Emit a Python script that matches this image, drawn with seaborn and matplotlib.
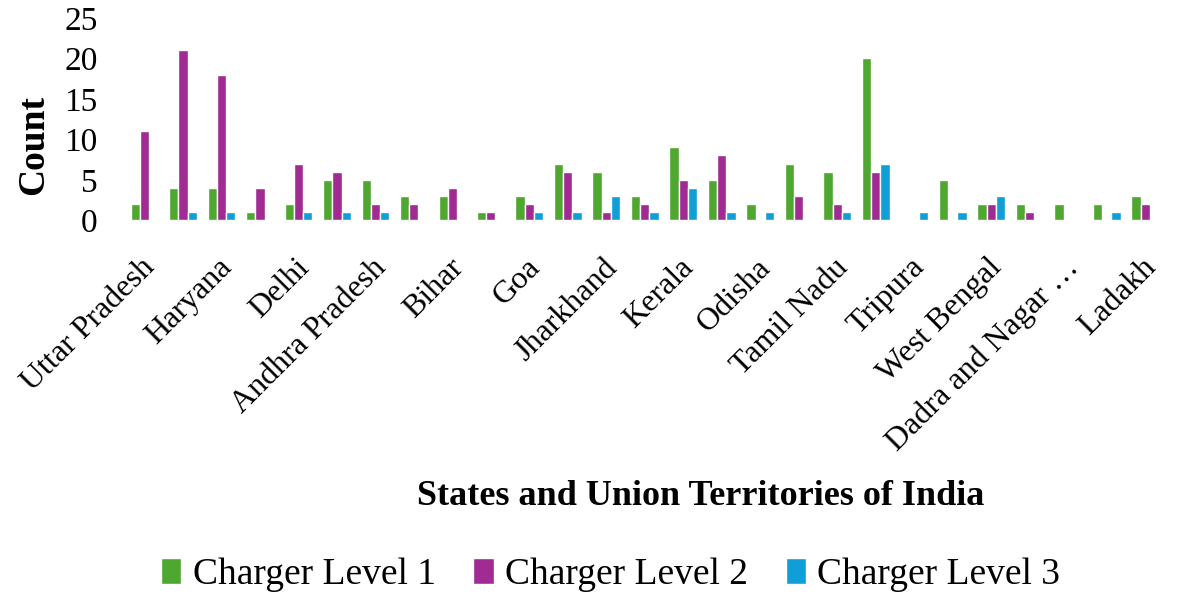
import matplotlib
matplotlib.use('Agg')
import matplotlib.pyplot as plt
import matplotlib.transforms as mtransforms
import pandas as pd
import seaborn as sns

states = ['Uttar Pradesh', 'Maharashtra', 'Haryana', 'Rajasthan', 'Delhi',
          'Karnataka', 'Andhra Pradesh', 'Gujarat', 'Bihar', 'Assam',
          'Goa', 'Telangana', 'Jharkhand', 'Punjab', 'Kerala',
          'Madhya Pradesh', 'Odisha', 'Chhattisgarh', 'Tamil Nadu', 'Chandigarh',
          'Tripura', 'Uttarakhand', 'West Bengal', 'Himachal Pradesh',
          'Dadra and Nagar …', 'Puducherry', 'Ladakh']
level1 = [2, 4, 4, 1, 2, 5, 5, 3, 3, 1, 3, 7, 6, 3, 9, 5, 2, 7, 6, 20, 0, 5, 2, 2, 2, 2, 3]
level2 = [11, 21, 18, 4, 7, 6, 2, 2, 4, 1, 2, 6, 1, 2, 5, 8, 0, 3, 2, 6, 0, 0, 2, 1, 0, 0, 2]
level3 = [0, 1, 1, 0, 1, 1, 1, 0, 0, 0, 1, 1, 3, 1, 4, 1, 1, 0, 1, 7, 1, 1, 3, 0, 0, 1, 0]
series = ['Charger Level 1', 'Charger Level 2', 'Charger Level 3']
colors = ['#4EA72E', '#A02B93', '#0F9ED5']

df = pd.DataFrame({'state': states, series[0]: level1, series[1]: level2, series[2]: level3})
long_df = df.melt(id_vars='state', var_name='level', value_name='count')

sns.set_style('white')
plt.rcParams['font.family'] = ['Liberation Serif', 'DejaVu Serif']
plt.rcParams['text.color'] = 'black'
plt.rcParams['xtick.color'] = 'black'
plt.rcParams['ytick.color'] = 'black'
plt.rcParams['axes.labelcolor'] = 'black'

fig = plt.figure(figsize=(11.81, 6), dpi=100)
ax = fig.add_axes([0.106, 0.633, 0.88, 0.337])

sns.barplot(data=long_df, x='state', y='count', hue='level', palette=colors,
            width=0.72, ax=ax, saturation=1, legend=True)

ax.set_ylim(0, 25)
ax.set_yticks([0, 5, 10, 15, 20, 25])
ax.tick_params(axis='y', labelsize=24, length=0, pad=20)
ax.tick_params(axis='x', labelsize=23, length=0, pad=2)
ticks = list(range(0, len(states), 2))
ax.set_xticks(ticks)
ax.set_xticklabels([states[i] for i in ticks], rotation=45, ha='right',
                   rotation_mode='anchor')
# move the slanted labels a bit down and left, like the original
shift = mtransforms.ScaledTranslation(-4 / 100, -30 / 100, fig.dpi_scale_trans)
for lab in ax.get_xticklabels():
    lab.set_transform(lab.get_transform() + shift)
for s in ax.spines.values():
    s.set_visible(False)

ax.set_ylabel('Count', fontsize=27, fontweight='bold')
ax.yaxis.set_label_coords(-0.071, 0.37)
ax.set_xlabel('')
fig.text(0.593, 0.172, 'States and Union Territories of India', fontsize=26,
         fontweight='bold', ha='center', va='center')

handles, labels = ax.get_legend_handles_labels()
ax.legend_.remove()
fig.legend(handles, labels, loc='center', bbox_to_anchor=(0.517, 0.042), ncol=3,
           frameon=False, fontsize=27, handlelength=0.55, handleheight=0.7,
           handletextpad=0.3, columnspacing=1.0)

fig.savefig('out.png', dpi=100)
